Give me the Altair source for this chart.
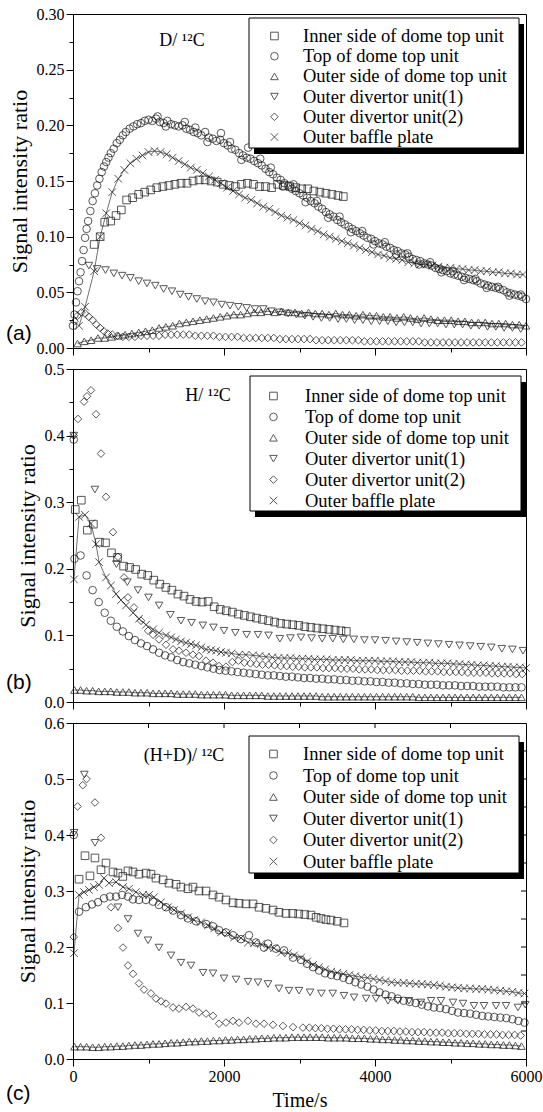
import altair as alt
import pandas as pd

SERIES = ["Inner side of dome top unit", "Top of dome top unit", "Outer side of dome top unit",
          "Outer divertor unit(1)", "Outer divertor unit(2)", "Outer baffle plate"]
SHAPES = ["square", "circle", "triangle-up", "triangle-down", "diamond", "M-1,-1L1,1M-1,1L1,-1"]
X_TICKS = [0, 1000, 2000, 3000, 4000, 5000, 6000]

# ---------------- panel (a)  D/12C ----------------
A_SQ = [(280,0.093),(360,0.100),(420,0.113),(500,0.114),(570,0.119),(640,0.124),(710,0.133),(790,0.135),(870,0.138),(950,0.140),
        (1030,0.142),(1110,0.144),(1190,0.145),(1270,0.146),(1350,0.147),(1430,0.148),(1510,0.148),(1590,0.150),(1670,0.151),(1750,0.151),
        (1830,0.150),(1910,0.149),(1990,0.147),(2070,0.146),(2150,0.145),(2230,0.147),(2310,0.148),(2390,0.147),(2470,0.145),(2550,0.145),
        (2630,0.144),(2710,0.147),(2790,0.146),(2870,0.145),(2950,0.144),(3030,0.143),(3110,0.143),(3190,0.141),(3270,0.140),(3350,0.139),
        (3430,0.138),(3510,0.137),(3580,0.136)]
A_CI = [(0,0.020),(20,0.030),(40,0.041),(60,0.051),(80,0.060),(100,0.068),(120,0.078),(140,0.088),(160,0.099),(180,0.107),(200,0.114),
        (230,0.123),(260,0.132),(290,0.139),(320,0.146),(350,0.152),(380,0.158),(410,0.163),(440,0.167),(470,0.171),(500,0.175),(540,0.179),
        (580,0.184),(620,0.187),(660,0.191),(700,0.194),(750,0.197),(800,0.199),(850,0.201),(900,0.202),(950,0.204),(1000,0.205),(1050,0.204),
        (1100,0.206),(1150,0.203),(1200,0.202),(1250,0.204),(1300,0.201),(1350,0.200),(1400,0.199),(1450,0.200),(1500,0.197),(1550,0.196),
        (1600,0.194),(1650,0.193),(1700,0.191),(1750,0.194),(1800,0.189),(1850,0.188),(1900,0.186),(1950,0.187),(2000,0.184),(2050,0.182),
        (2100,0.179),(2150,0.178),(2200,0.175),(2250,0.173),(2300,0.171),(2350,0.170),(2400,0.168),(2450,0.166),(2500,0.164),(2550,0.161),
        (2600,0.158),(2650,0.156),(2700,0.153),(2750,0.151),(2800,0.148),(2850,0.146),(2900,0.143),(2950,0.141),(3000,0.139),(3050,0.137),
        (3100,0.135),(3150,0.132),(3200,0.130),(3250,0.127),(3300,0.125),(3350,0.122),(3400,0.120),(3450,0.118),(3500,0.115),(3550,0.113),
        (3600,0.111),(3650,0.109),(3700,0.107),(3750,0.105),(3800,0.103),(3850,0.101),(3900,0.099),(3950,0.098),(4000,0.096),(4050,0.094),
        (4100,0.093),(4150,0.091),(4200,0.090),(4250,0.088),(4300,0.087),(4350,0.085),(4400,0.084),(4450,0.082),(4500,0.080),(4550,0.079),
        (4600,0.078),(4650,0.076),(4700,0.075),(4750,0.074),(4800,0.072),(4850,0.071),(4900,0.070),(4950,0.069),(5000,0.067),(5050,0.066),
        (5100,0.065),(5150,0.064),(5200,0.063),(5250,0.062),(5300,0.061),(5350,0.060),(5400,0.058),(5450,0.057),(5500,0.056),(5550,0.055),
        (5600,0.054),(5650,0.053),(5700,0.052),(5750,0.050),(5800,0.049),(5850,0.048),(5900,0.047),(5950,0.046),(6000,0.044)]
A_CI_EXTRA = [(1120,0.208),(1230,0.199),(1480,0.203),(1620,0.198),(1780,0.185),(1960,0.193),(2080,0.185),(2230,0.169),(2320,0.180),
              (2480,0.170),(2620,0.162),(2780,0.145),(2920,0.147),(3080,0.131),(3230,0.132),(3380,0.117),(3530,0.118),(3680,0.104),
              (3830,0.105),(3980,0.093),(4130,0.095),(4280,0.084),(4430,0.085),(4580,0.075),(4730,0.077),(4880,0.068),(5030,0.069),
              (5180,0.061),(5330,0.062),(5480,0.054),(5630,0.055),(5780,0.047),(5930,0.048)]
A_UP = [(60,0.004),(150,0.006),(240,0.007),(330,0.009),(420,0.009),(510,0.010),(600,0.011),(690,0.012),(780,0.013),(870,0.014),
        (960,0.015),(1050,0.016),(1140,0.018),(1230,0.019),(1320,0.020),(1410,0.022),(1500,0.023),(1590,0.024),(1680,0.025),(1770,0.026),
        (1860,0.027),(1950,0.028),(2040,0.029),(2130,0.030),(2220,0.030),(2310,0.031),(2400,0.032),(2490,0.032),(2580,0.033),(2670,0.032),
        (2760,0.033),(2850,0.032),(2940,0.032),(3030,0.031),(3120,0.032),(3210,0.031),(3300,0.031),(3390,0.030),(3480,0.031),(3570,0.030),
        (3660,0.030),(3750,0.029),(3840,0.030),(3930,0.029),(4020,0.029),(4110,0.028),(4200,0.028),(4290,0.027),(4380,0.028),(4470,0.027),
        (4560,0.026),(4650,0.027),(4740,0.026),(4830,0.025),(4920,0.025),(5010,0.025),(5100,0.024),(5190,0.024),(5280,0.023),(5370,0.023),
        (5460,0.023),(5550,0.022),(5640,0.022),(5730,0.022),(5820,0.021),(5910,0.021),(6000,0.020)]
A_DN = [(210,0.074),(320,0.071),(430,0.070),(540,0.067),(650,0.065),(760,0.063),(870,0.060),(980,0.058),(1090,0.056),(1200,0.053),
        (1310,0.051),(1420,0.048),(1530,0.046),(1640,0.044),(1750,0.042),(1860,0.041),(1970,0.039),(2080,0.038),(2190,0.037),(2300,0.036),
        (2410,0.035),(2520,0.035),(2630,0.033),(2740,0.032),(2850,0.031),(2960,0.030),(3070,0.029),(3180,0.028),(3290,0.027),(3400,0.027),
        (3510,0.026),(3620,0.026),(3730,0.025),(3840,0.025),(3950,0.024),(4060,0.024),(4170,0.024),(4280,0.023),(4390,0.023),(4500,0.023),
        (4610,0.022),(4720,0.022),(4830,0.022),(4940,0.021),(5050,0.021),(5160,0.021),(5270,0.020),(5380,0.020),(5490,0.019),(5600,0.019),
        (5710,0.018),(5820,0.018),(5930,0.017)]
A_DI = [(20,0.024),(60,0.029),(110,0.032),(160,0.031),(210,0.028),(260,0.025),(310,0.021),(360,0.018),(410,0.015),(460,0.013),
        (520,0.012),(590,0.011),(660,0.010),(740,0.010),(820,0.010),(900,0.011),(980,0.011),(1060,0.011),(1140,0.011),(1220,0.012),
        (1300,0.012),(1380,0.012),(1460,0.012),(1540,0.012),(1620,0.011),(1700,0.011),(1780,0.011),(1860,0.011),(1940,0.010),(2020,0.010),
        (2100,0.010),(2180,0.010),(2260,0.009),(2340,0.009),(2420,0.009),(2500,0.009),(2580,0.009),(2660,0.009),(2740,0.008),(2820,0.008),
        (2900,0.008),(2980,0.008),(3060,0.008),(3140,0.008),(3220,0.007),(3300,0.007),(3380,0.007),(3460,0.007),(3540,0.007),(3620,0.007),
        (3700,0.007),(3780,0.007),(3860,0.006),(3940,0.006),(4020,0.006),(4100,0.006),(4180,0.006),(4260,0.006),(4340,0.006),(4420,0.006),
        (4500,0.006),(4580,0.006),(4660,0.005),(4740,0.005),(4820,0.005),(4900,0.005),(4980,0.005),(5060,0.005),(5140,0.005),(5220,0.005),
        (5300,0.005),(5380,0.005),(5460,0.005),(5540,0.005),(5620,0.005),(5700,0.005),(5780,0.005),(5860,0.005),(5940,0.005)]
A_X = [(80,0.020),(160,0.037),(280,0.069),(360,0.100),(440,0.121),(520,0.140),(600,0.152),(680,0.160),(760,0.166),(840,0.170),
       (920,0.173),(1000,0.176),(1080,0.177),(1160,0.176),(1240,0.174),(1320,0.171),(1400,0.168),(1480,0.165),(1560,0.162),(1640,0.160),
       (1720,0.157),(1800,0.154),(1880,0.151),(1960,0.148),(2040,0.144),(2120,0.141),(2200,0.138),(2280,0.135),(2360,0.133),(2440,0.130),
       (2520,0.127),(2600,0.125),(2680,0.122),(2760,0.119),(2840,0.117),(2920,0.115),(3000,0.112),(3080,0.110),(3160,0.107),(3240,0.105),
       (3320,0.102),(3400,0.100),(3480,0.098),(3560,0.096),(3640,0.094),(3720,0.092),(3800,0.090),(3880,0.088),(3960,0.086),(4040,0.084),
       (4120,0.083),(4200,0.081),(4280,0.080),(4360,0.079),(4440,0.077),(4520,0.076),(4600,0.075),(4680,0.075),(4760,0.074),(4840,0.073),
       (4920,0.072),(5000,0.072),(5080,0.071),(5160,0.071),(5240,0.070),(5320,0.070),(5400,0.069),(5480,0.069),(5560,0.068),(5640,0.068),
       (5720,0.067),(5800,0.067),(5880,0.066),(5960,0.066)]

# ---------------- panel (b)  H/12C ----------------
B_SQ = [(30,0.289),(110,0.303),(190,0.258),(270,0.267),(350,0.240),(430,0.239),(510,0.224),(590,0.217),(670,0.204),(750,0.202),
        (830,0.199),(910,0.192),(990,0.190),(1070,0.183),(1150,0.177),(1230,0.172),(1310,0.168),(1390,0.162),(1470,0.159),(1550,0.154),
        (1630,0.151),(1710,0.150),(1790,0.151),(1870,0.143),(1950,0.139),(2030,0.137),(2110,0.135),(2190,0.132),(2270,0.130),(2350,0.128),
        (2430,0.126),(2510,0.124),(2590,0.122),(2670,0.120),(2750,0.118),(2830,0.117),(2910,0.116),(2990,0.115),(3070,0.113),(3150,0.112),
        (3230,0.111),(3310,0.110),(3390,0.109),(3470,0.108),(3550,0.107),(3620,0.106)]
B_CI = [(10,0.394),(20,0.215),(100,0.220),(180,0.190),(260,0.168),(340,0.150),(420,0.134),(500,0.122),(580,0.113),(660,0.106),
        (740,0.099),(820,0.093),(900,0.088),(980,0.084),(1060,0.079),(1140,0.074),(1220,0.070),(1300,0.067),(1380,0.063),(1460,0.060),
        (1540,0.058),(1620,0.056),(1700,0.054),(1780,0.052),(1860,0.050),(1940,0.048),(2020,0.047),(2100,0.046),(2180,0.045),(2260,0.044),
        (2340,0.043),(2420,0.042),(2500,0.041),(2580,0.040),(2660,0.040),(2740,0.039),(2820,0.038),(2900,0.038),(2980,0.037),(3060,0.036),
        (3140,0.036),(3220,0.035),(3300,0.035),(3380,0.034),(3460,0.034),(3540,0.033),(3620,0.033),(3700,0.032),(3780,0.032),(3860,0.031),
        (3940,0.031),(4020,0.030),(4100,0.030),(4180,0.029),(4260,0.029),(4340,0.028),(4420,0.028),(4500,0.027),(4580,0.027),(4660,0.026),
        (4740,0.026),(4820,0.026),(4900,0.025),(4980,0.025),(5060,0.025),(5140,0.024),(5220,0.024),(5300,0.024),(5380,0.023),(5460,0.023),
        (5540,0.023),(5620,0.023),(5700,0.022),(5780,0.022),(5860,0.022),(5940,0.022)]
B_UP = [(20,0.018),(100,0.018),(180,0.017),(260,0.017),(340,0.016),(420,0.016),(500,0.016),(580,0.015),(660,0.015),(740,0.015),
        (820,0.014),(900,0.014),(980,0.014),(1060,0.013),(1140,0.013),(1220,0.013),(1300,0.013),(1380,0.012),(1460,0.012),(1540,0.012),
        (1620,0.012),(1700,0.011),(1780,0.011),(1860,0.011),(1940,0.011),(2020,0.011),(2100,0.010),(2180,0.010),(2260,0.010),(2340,0.010),
        (2420,0.010),(2500,0.010),(2580,0.009),(2660,0.009),(2740,0.009),(2820,0.009),(2900,0.009),(2980,0.009),(3060,0.009),(3140,0.009),
        (3220,0.009),(3300,0.008),(3380,0.008),(3460,0.008),(3540,0.008),(3620,0.008),(3700,0.008),(3780,0.008),(3860,0.008),(3940,0.008),
        (4020,0.008),(4100,0.008),(4180,0.008),(4260,0.008),(4340,0.008),(4420,0.008),(4500,0.008),(4580,0.007),(4660,0.007),(4740,0.007),
        (4820,0.007),(4900,0.007),(4980,0.007),(5060,0.007),(5140,0.007),(5220,0.007),(5300,0.007),(5380,0.007),(5460,0.007),(5540,0.007),
        (5620,0.007),(5700,0.007),(5780,0.007),(5860,0.007),(5940,0.007)]
B_DN = [(10,0.400),(290,0.319),(575,0.207),(720,0.180),(860,0.168),(1000,0.157),(1140,0.145),(1290,0.131),(1430,0.122),(1570,0.119),
        (1720,0.115),(1860,0.112),(2000,0.107),(2150,0.104),(2300,0.101),(2450,0.101),(2590,0.100),(2740,0.095),(2880,0.096),(3020,0.097),
        (3160,0.096),(3300,0.095),(3440,0.095),(3580,0.094),(3720,0.094),(3860,0.093),(4000,0.093),(4140,0.092),(4280,0.091),(4420,0.090),
        (4560,0.089),(4700,0.088),(4840,0.087),(4980,0.086),(5120,0.085),(5260,0.084),(5400,0.083),(5540,0.082),(5680,0.080),(5820,0.079),
        (5960,0.077)]
B_DI = [(10,0.400),(66,0.425),(146,0.451),(185,0.459),(238,0.468),(305,0.432),(371,0.373),(437,0.308),(530,0.255),(596,0.218),
        (676,0.187),(728,0.157),(808,0.142),(901,0.122),(994,0.107),(1060,0.101),(1139,0.094),(1232,0.086),(1325,0.079),(1404,0.077),
        (1497,0.074),(1589,0.071),(1669,0.069),(1762,0.062),(1854,0.059),(1934,0.054),(2026,0.053),(2110,0.060),(2190,0.062),(2270,0.059),
        (2350,0.058),(2430,0.057),(2510,0.056),(2590,0.056),(2670,0.055),(2750,0.054),(2830,0.054),(2910,0.053),(2990,0.053),(3070,0.052),
        (3150,0.052),(3230,0.052),(3310,0.051),(3390,0.051),(3470,0.051),(3550,0.050),(3630,0.050),(3710,0.050),(3790,0.049),(3870,0.049),
        (3950,0.049),(4030,0.048),(4110,0.048),(4190,0.048),(4270,0.048),(4350,0.047),(4430,0.047),(4510,0.047),(4590,0.047),(4670,0.046),
        (4750,0.046),(4830,0.046),(4910,0.045),(4990,0.045),(5070,0.045),(5150,0.045),(5230,0.044),(5310,0.044),(5390,0.044),(5470,0.044),
        (5550,0.043),(5630,0.043),(5710,0.043),(5790,0.043),(5870,0.042),(5950,0.042)]
B_X = [(13,0.184),(80,0.278),(159,0.281),(238,0.268),(305,0.237),(345,0.210),(437,0.187),(503,0.175),(570,0.162),(636,0.153),
       (702,0.145),(795,0.134),(874,0.125),(967,0.116),(1060,0.109),(1139,0.104),(1232,0.100),(1300,0.097),(1364,0.094),(1430,0.091),
       (1497,0.089),(1563,0.087),(1629,0.085),(1700,0.082),(1762,0.079),(1830,0.078),(1894,0.077),(1960,0.075),(2026,0.074),(2100,0.073),
       (2199,0.071),(2290,0.071),(2384,0.070),(2470,0.069),(2556,0.068),(2640,0.067),(2720,0.066),(2800,0.066),(2880,0.066),(2960,0.065),
       (3040,0.065),(3120,0.065),(3200,0.064),(3280,0.064),(3360,0.064),(3440,0.063),(3520,0.063),(3600,0.063),(3680,0.063),(3760,0.062),
       (3840,0.062),(3920,0.062),(4000,0.062),(4080,0.061),(4160,0.061),(4240,0.061),(4320,0.060),(4400,0.060),(4480,0.060),(4560,0.059),
       (4640,0.059),(4720,0.059),(4800,0.058),(4880,0.058),(4960,0.058),(5040,0.057),(5120,0.057),(5200,0.056),(5280,0.056),(5360,0.055),
       (5440,0.055),(5520,0.054),(5600,0.054),(5680,0.053),(5760,0.053),(5840,0.052),(5920,0.052),(6000,0.051)]

# ---------------- panel (c)  (H+D)/12C ----------------
C_SQ = [(80,0.321),(159,0.363),(225,0.327),(291,0.359),(371,0.338),(437,0.350),(530,0.334),(596,0.332),(660,0.326),(728,0.336),
        (795,0.334),(874,0.330),(967,0.332),(1033,0.330),(1099,0.323),(1192,0.320),(1272,0.314),(1364,0.312),(1430,0.307),(1523,0.304),
        (1589,0.307),(1669,0.300),(1762,0.300),(1854,0.293),(1934,0.289),(2026,0.284),(2119,0.279),(2199,0.278),(2291,0.277),(2384,0.277),
        (2464,0.271),(2556,0.269),(2649,0.266),(2728,0.262),(2821,0.260),(2910,0.260),(2990,0.259),(3070,0.258),(3152,0.257),(3220,0.253),
        (3285,0.251),(3350,0.249),(3417,0.248),(3500,0.246),(3589,0.243)]
C_CI = [(10,0.400),(80,0.263),(172,0.271),(252,0.276),(331,0.280),(411,0.287),(490,0.290),(570,0.290),(649,0.293),(728,0.290),
        (795,0.285),(874,0.284),(967,0.284),(1060,0.281),(1139,0.275),(1232,0.271),(1325,0.265),(1430,0.257),(1523,0.251),(1629,0.246),
        (1762,0.241),(1854,0.237),(1934,0.230),(2026,0.226),(2119,0.221),(2225,0.214),(2331,0.221),(2424,0.208),(2530,0.199),(2583,0.206),
        (2689,0.197),(2795,0.194),(2914,0.181),(3020,0.177),(3100,0.170),(3180,0.164),(3260,0.158),(3340,0.153),(3420,0.150),(3500,0.148),
        (3580,0.145),(3660,0.141),(3740,0.137),(3820,0.133),(3900,0.129),(3980,0.124),(4060,0.119),(4140,0.115),(4220,0.112),(4300,0.108),
        (4380,0.104),(4460,0.102),(4540,0.100),(4620,0.097),(4700,0.094),(4780,0.092),(4860,0.091),(4940,0.089),(5020,0.086),(5100,0.083),
        (5180,0.082),(5260,0.081),(5340,0.079),(5420,0.077),(5500,0.076),(5580,0.075),(5660,0.074),(5740,0.073),(5820,0.071),(5900,0.068),
        (5980,0.065)]
C_UP = [(20,0.022),(100,0.022),(180,0.022),(260,0.021),(340,0.021),(420,0.022),(500,0.022),(580,0.023),(660,0.023),(740,0.024),
        (820,0.025),(900,0.025),(980,0.026),(1060,0.027),(1140,0.027),(1220,0.028),(1300,0.029),(1380,0.029),(1460,0.030),(1540,0.031),
        (1620,0.031),(1700,0.032),(1780,0.032),(1860,0.033),(1940,0.033),(2020,0.034),(2100,0.034),(2180,0.035),(2260,0.035),(2340,0.036),
        (2420,0.036),(2500,0.037),(2580,0.037),(2660,0.038),(2740,0.038),(2820,0.038),(2900,0.039),(2980,0.039),(3060,0.039),(3140,0.039),
        (3220,0.039),(3300,0.039),(3380,0.038),(3460,0.038),(3540,0.038),(3620,0.038),(3700,0.037),(3780,0.037),(3860,0.037),(3940,0.036),
        (4020,0.036),(4100,0.035),(4180,0.035),(4260,0.034),(4340,0.034),(4420,0.033),(4500,0.033),(4580,0.032),(4660,0.032),(4740,0.031),
        (4820,0.031),(4900,0.030),(4980,0.030),(5060,0.029),(5140,0.029),(5220,0.028),(5300,0.028),(5380,0.027),(5460,0.027),(5540,0.026),
        (5620,0.026),(5700,0.025),(5780,0.025),(5860,0.024),(5940,0.023)]
C_DN = [(15,0.404),(150,0.508),(291,0.386),(596,0.271),(728,0.250),(861,0.224),(994,0.212),(1139,0.199),(1298,0.185),(1430,0.172),
        (1563,0.167),(1722,0.154),(1854,0.153),(2000,0.144),(2159,0.142),(2318,0.138),(2450,0.137),(2583,0.134),(2728,0.126),(2861,0.122),
        (2993,0.122),(3140,0.119),(3290,0.117),(3440,0.117),(3589,0.113),(3722,0.110),(3881,0.108),(4013,0.108),(4172,0.104),(4305,0.104),
        (4450,0.104),(4609,0.101),(4742,0.104),(4874,0.104),(5033,0.101),(5166,0.099),(5311,0.095),(5444,0.095),(5603,0.095),(5735,0.095),
        (5894,0.092),(5990,0.097)]
C_DI = [(10,0.218),(60,0.451),(130,0.489),(180,0.500),(291,0.458),(371,0.395),(503,0.271),(596,0.234),(662,0.199),(728,0.167),
        (795,0.152),(874,0.135),(940,0.124),(1033,0.117),(1099,0.108),(1166,0.103),(1232,0.099),(1325,0.092),(1404,0.090),(1497,0.093),
        (1589,0.090),(1669,0.083),(1762,0.081),(1854,0.077),(1934,0.063),(2026,0.065),(2119,0.068),(2199,0.065),(2318,0.068),(2424,0.063),
        (2530,0.063),(2649,0.061),(2781,0.059),(2914,0.057),(3046,0.056),(3130,0.056),(3210,0.055),(3290,0.055),(3370,0.054),(3450,0.054),
        (3530,0.053),(3610,0.053),(3690,0.053),(3770,0.052),(3850,0.052),(3930,0.051),(4010,0.051),(4090,0.050),(4170,0.050),(4250,0.050),
        (4330,0.049),(4410,0.049),(4490,0.048),(4570,0.048),(4650,0.048),(4730,0.047),(4810,0.047),(4890,0.047),(4970,0.046),(5050,0.046),
        (5130,0.046),(5210,0.045),(5290,0.045),(5370,0.045),(5450,0.044),(5530,0.044),(5610,0.044),(5690,0.043),(5770,0.043),(5850,0.043),
        (5930,0.042)]
C_X = [(13,0.189),(80,0.293),(146,0.298),(212,0.302),(278,0.307),(345,0.311),(411,0.323),(477,0.314),(570,0.316),(662,0.307),
       (742,0.304),(834,0.298),(927,0.293),(1007,0.293),(1073,0.289),(1166,0.280),(1258,0.271),(1338,0.266),(1430,0.260),(1523,0.253),
       (1602,0.248),(1696,0.244),(1788,0.239),(1868,0.233),(1960,0.226),(2053,0.225),(2133,0.217),(2225,0.216),(2318,0.208),(2397,0.207),
       (2490,0.205),(2583,0.199),(2662,0.198),(2755,0.190),(2848,0.189),(2927,0.185),(3020,0.181),(3100,0.174),(3180,0.168),(3260,0.164),
       (3340,0.160),(3420,0.156),(3500,0.154),(3580,0.152),(3660,0.150),(3740,0.148),(3820,0.146),(3900,0.145),(3980,0.143),(4060,0.141),
       (4140,0.139),(4220,0.137),(4300,0.136),(4380,0.136),(4460,0.135),(4540,0.134),(4620,0.134),(4700,0.133),(4780,0.132),(4860,0.131),
       (4940,0.129),(5020,0.128),(5100,0.127),(5180,0.126),(5260,0.126),(5340,0.125),(5420,0.125),(5500,0.124),(5580,0.123),(5660,0.122),
       (5740,0.121),(5820,0.120),(5900,0.118),(5980,0.117)]
C_RIGHT_TICKS = [0.05, 0.1, 0.15, 0.2, 0.25, 0.3, 0.35, 0.4, 0.45, 0.5, 0.55]
C_TOP_TICKS = [1000, 2000, 3000, 4000, 5000]

W = 453
SERIF = "Liberation Serif"
INK = "#111111"


def to_frame(groups):
    rows = []
    for name, pts in zip(SERIES, groups):
        for t, v in pts:
            rows.append({"series": name, "t": t, "v": v})
    return pd.DataFrame(rows)


def panel(groups, ymax, step, fmt, h, title_txt, title_xy, plabel, plabel_y, box, leg, bottom):
    df = to_frame(groups)
    yvals = [round(i * step / 2, 4) for i in range(int(round(ymax / (step / 2))) + 1)]
    major = f"abs(datum.value/{step} - round(datum.value/{step})) < 0.001"
    xaxis = alt.Axis(values=X_TICKS, grid=False, labelFlush=False, labelOverlap=False,
                     tickSize={"condition": {"test": "datum.value % 2000 === 0", "value": 7}, "value": 4},
                     labels=bottom, labelExpr="datum.value % 2000 === 0 ? format(datum.value, 'd') : ''",
                     labelFont=SERIF, labelFontSize=16, labelColor="black",
                     titleFont=SERIF, titleFontSize=20, titleFontWeight="normal", titleColor="black",
                     title="Time/s" if bottom else None, titlePadding=6, labelPadding=2)
    yaxis = alt.Axis(values=yvals, grid=False, labelOverlap=False,
                     tickSize={"condition": {"test": major, "value": 7}, "value": 4},
                     labelExpr=f"{major} ? format(datum.value, '{fmt}') : ''",
                     labelFont=SERIF, labelFontSize=16, labelColor="black",
                     titleFont=SERIF, titleFontSize=22, titleFontWeight="normal", titleColor="black",
                     title="Signal intensity ratio", titlePadding=5, labelPadding=2)
    x = alt.X("t:Q", scale=alt.Scale(domain=[0, 6000], nice=False), axis=xaxis)
    y = alt.Y("v:Q", scale=alt.Scale(domain=[0, ymax], nice=False), axis=yaxis)
    lx, ly, loff, rpad = leg
    legend = alt.Legend(orient="none", legendX=lx, legendY=ly, title=None, labelFont=SERIF,
                        labelFontSize=18.5, labelColor="black", symbolSize=58, symbolStrokeWidth=1,
                        symbolStrokeColor=INK, symbolFillColor="transparent", labelOffset=loff,
                        rowPadding=rpad, padding=0, labelLimit=400)
    pts = alt.Chart(df).mark_point(filled=False, size=58, strokeWidth=1.0, color=INK).encode(
        x=x, y=y,
        shape=alt.Shape("series:N", scale=alt.Scale(domain=SERIES, range=SHAPES), legend=legend),
    )
    lines = alt.Chart(df).transform_filter(
        alt.FieldOneOfPredicate(field="series", oneOf=[SERIES[2], SERIES[5]])
    ).mark_line(color="#333333", strokeWidth=0.7).encode(x=x, y=y, detail="series:N", order="t:Q")
    one = pd.DataFrame({"k": [0]})
    bx0, by0, bx1, by1 = box
    shadow = alt.Chart(one).mark_rect(color="black").encode(
        x=alt.value(bx0 + 5), x2=alt.value(min(bx1 + 5, W)), y=alt.value(by0 + 6), y2=alt.value(by1 + 6))
    boxr = alt.Chart(one).mark_rect(fill="white", stroke="black", strokeWidth=1).encode(
        x=alt.value(bx0), x2=alt.value(bx1), y=alt.value(by0), y2=alt.value(by1))
    ttl = alt.Chart(pd.DataFrame({"txt": [title_txt]})).mark_text(
        font=SERIF, fontSize=18, align="center", baseline="middle", color="black").encode(
        x=alt.value(title_xy[0]), y=alt.value(title_xy[1]), text="txt:N")
    plab = alt.Chart(pd.DataFrame({"txt": [plabel]})).mark_text(
        font="Liberation Sans", fontSize=21, align="left", baseline="middle", color="black").encode(
        x=alt.value(-67), y=alt.value(plabel_y), text="txt:N")
    layers = [lines, pts, shadow, boxr, ttl, plab]
    if bottom:
        top_df = pd.DataFrame({"t": C_TOP_TICKS})
        top = alt.Chart(top_df).mark_rule(color="black", strokeWidth=1).encode(
            x=alt.X("t:Q"), y=alt.value(0), y2=alt.value(5))
        right_df = pd.DataFrame({"v": C_RIGHT_TICKS})
        right = alt.Chart(right_df).mark_rule(color="black", strokeWidth=1).encode(
            y=alt.Y("v:Q"), x=alt.value(W), x2=alt.value(W - 5))
        layers += [top, right]
    return alt.layer(*layers).properties(width=W, height=h)


pa = panel([A_SQ, A_CI + A_CI_EXTRA, A_UP, A_DN, A_DI, A_X], 0.30, 0.05, ".2f", 334,
           "D/ \u00b9\u00b2C", (109, 27), "(a)", 320, (176, 4, 446, 134), (192.2, 12.75, 19.3, 1.2), False)
pb = panel([B_SQ, B_CI, B_UP, B_DN, B_DI, B_X], 0.5, 0.1, ".1f", 333,
           "H/ \u00b9\u00b2C", (135, 27), "(b)", 314, (177, 7, 448, 142), (191.2, 17.75, 22.3, 1.9), False)
pc = panel([C_SQ, C_CI, C_UP, C_DN, C_DI, C_X], 0.6, 0.1, ".1f", 336,
           "(H+D)/ \u00b9\u00b2C", (111, 33), "(c)", 371, (176, 13, 446, 150), (191.2, 21.75, 20.3, 2.5), True)

chart = alt.vconcat(pa, pb, pc, spacing=21, bounds="flush").resolve_scale(
    shape="independent").resolve_legend(shape="independent").properties(
    padding={"left": 5, "top": 5, "right": 0, "bottom": 0}, background="white"
).configure_view(stroke="black", strokeWidth=1).configure_axis(
    domainColor="black", tickColor="black", tickWidth=1, domainWidth=1,
    labelFont=SERIF, labelFontSize=16, labelColor="black",
    titleFont=SERIF, titleFontSize=22, titleFontWeight="normal", titleColor="black",
)

chart.save("out.html", embed_options={"renderer": "svg", "actions": False})
